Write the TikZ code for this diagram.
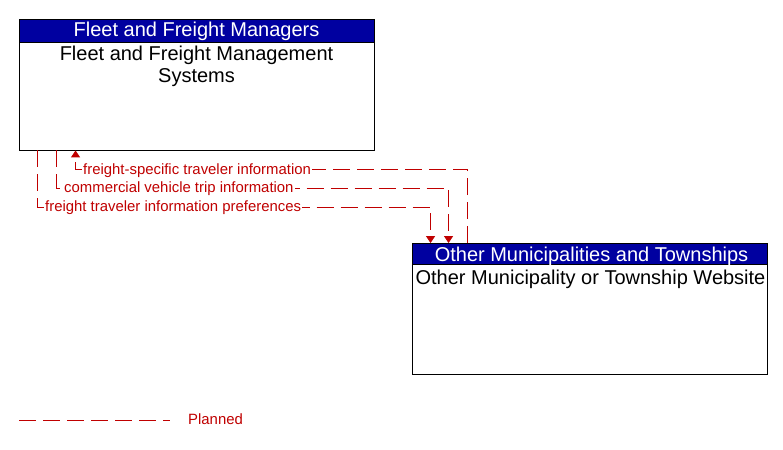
\documentclass[tikz,border=0pt]{standalone}
\usepackage{fontspec}
\setmainfont{Liberation Sans}
\usetikzlibrary{arrows.meta}
\definecolor{planred}{RGB}{192,0,0}
\definecolor{headblue}{RGB}{0,0,160}
\tikzset{
  x=1pt,y=1pt,
  sysbox/.style={draw=black,line width=0.9pt,fill=white,rectangle,inner sep=0pt,minimum width=355pt,minimum height=131pt},
  headbox/.style={draw=black,line width=0.9pt,fill=headblue,rectangle,inner sep=0pt,minimum width=355pt,minimum height=23pt},
  headtext/.style={text=white,font=\fontsize{20}{22}\selectfont,inner sep=0pt,anchor=base},
  bodytext/.style={text=black,font=\fontsize{20}{22.5}\selectfont,inner sep=0pt,anchor=base,align=center},
  planned/.style={draw=planred,line width=0.9pt,dash pattern=on 17pt off 7pt},
  flowlabel/.style={text=planred,font=\fontsize{14.9}{16}\selectfont,fill=white,inner xsep=1pt,inner ysep=1pt,anchor=base west},
  tip/.style={-{Triangle[length=7pt,width=9pt]}}
}
\begin{document}
\begin{tikzpicture}
\useasboundingbox (0,0) rectangle (783,449);
\fill[white] (0,0) rectangle (783,449);
% Fleet box
\node[sysbox] (fleet) at (196.5,364.5) {};
\node[headbox,anchor=north] (fleetH) at (fleet.north) {};
\node[headtext] (fleetHT) at (196.5,412) {Fleet and Freight Managers};
\node[bodytext] (fleetB1) at (196.5,388) {Fleet and Freight Management};
\node[bodytext] (fleetB2) at (196.5,366) {Systems};
% Municipality box
\node[sysbox] (mun) at (589.5,140) {};
\node[headbox,anchor=north,minimum height=21pt] (munH) at (mun.north) {};
\node[headtext] (munHT) at (591.5,187) {Other Municipalities and Townships};
\node[bodytext] (munB) at (590.5,164) {Other Municipality or Township Website};
% flows
\draw[planned,tip] ([xshift=56pt]mun.north west) -- ++(0,74) -| ([xshift=57pt]fleet.south west);
\draw[planned,tip] ([xshift=38pt]fleet.south west) -- ++(0,-38) -| ([xshift=37pt]mun.north west);
\draw[planned,tip] ([xshift=19pt]fleet.south west) -- ++(0,-57) -| ([xshift=19pt]mun.north west);
\node[flowlabel] (l1) at (82,274.5) {freight-specific traveler information};
\node[flowlabel] (l2) at (63,256) {commercial vehicle trip information};
\node[flowlabel] (l3) at (44,237.5) {freight traveler information preferences};
% legend
\coordinate (legA) at (19,29);
\coordinate (legB) at (170,29);
\draw[planned] (legA) -- (legB);
\node[text=planred,font=\fontsize{14.9}{16}\selectfont,inner sep=0pt,anchor=base west] (legT) at (188,24) {Planned};
\end{tikzpicture}
\end{document}
